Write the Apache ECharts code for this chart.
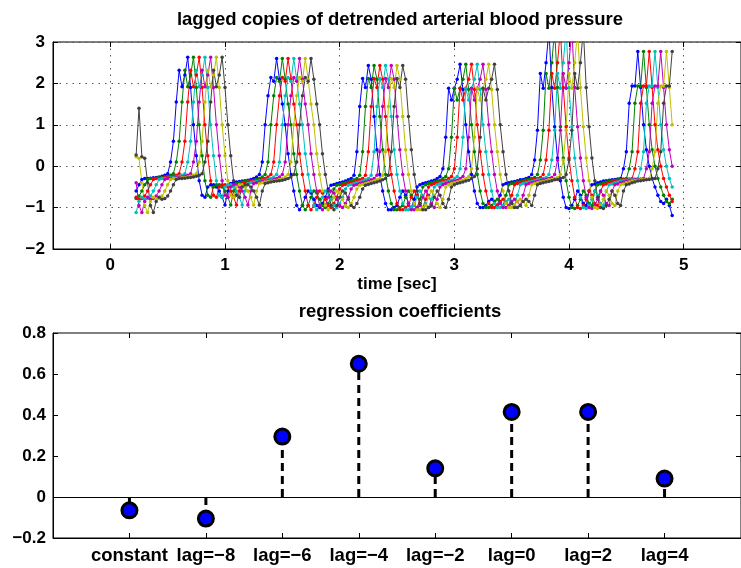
<!DOCTYPE html>
<html>
<head>
<meta charset="utf-8">
<script src="https://cdn.jsdelivr.net/npm/echarts@6/dist/echarts.min.js"></script>
<style>
  html, body { margin: 0; padding: 0; background: #fff; }
  #chart { width: 741px; height: 568px; }
</style>
</head>
<body>
<div id="chart"></div>
<script>
// detrended ABP samples (40 Hz); first 12 samples only appear in the most-lagged copy
const abpDetrended = [
  0.27, 1.4, 0.23, 0.19, -0.4, -0.95, -1.12, -0.85, -0.75, -0.8, -0.78, -0.72,
  -0.6, -0.45, -0.32, -0.3, -0.3, -0.29, -0.28, -0.27, -0.26, -0.24, -0.22, -0.18,
  0.1, 0.6, 1.55, 2.32, 1.92, 2.2, 2.63, 1.9, 1.0, 0.25, -0.35, -0.7,
  -0.75, -0.5, -0.45, -0.45, -0.5, -0.6, -0.75, -0.94, -0.6, -0.42, -0.4, -0.38,
  -0.37, -0.36, -0.35, -0.34, -0.32, -0.3, -0.26, -0.2, 0.1, 1.0, 1.7, 2.14,
  2.05, 2.6, 2.1, 1.5, 1.0, 0.3, -0.2, -0.6, -0.95, -1.05, -0.95, -0.75,
  -0.6, -0.65, -0.8, -0.95, -1.0, -0.9, -0.75, -0.55, -0.46, -0.44, -0.42, -0.4,
  -0.38, -0.36, -0.33, -0.3, -0.22, 0.35, 1.44, 2.12, 1.9, 2.43, 2.1, 1.2,
  0.4, -0.2, -0.6, -0.9, -1.05, -1.05, -1.0, -0.95, -0.75, -0.6, -0.7, -0.9,
  -1.0, -0.8, -0.5, -0.45, -0.42, -0.4, -0.38, -0.36, -0.34, -0.3, -0.25, -0.06,
  0.7, 1.88, 1.6, 1.88, 2.1, 2.46, 1.85, 1.0, 0.35, -0.2, -0.6, -0.9,
  -1.0, -1.0, -0.95, -0.85, -0.8, -0.85, -0.95, -0.7, -0.45, -0.42, -0.4, -0.38,
  -0.37, -0.35, -0.33, -0.32, -0.3, -0.27, -0.2, 0.15, 0.87, 2.24, 1.88, 2.5,
  3.3, 1.9, 0.95, 0.2, -0.35, -0.75, -1.0, -1.02, -0.95, -0.8, -0.6, -0.7,
  -0.9, -0.95, -0.6, -0.45, -0.43, -0.4, -0.38, -0.36, -0.35, -0.34, -0.33, -0.32,
  -0.31, -0.3, -0.06, 0.35, 1.52, 1.94, 1.94, 2.77, 1.9, 1.0, 0.4, 0.0,
  -0.3, -0.5, -0.7, -0.85, -0.9, -0.8, -0.95, -1.19
];
const sampleStart = 0.225;   // sec
const samplePeriod = 0.025;  // sec
const numSamples = 188;
const lags = [-8, -6, -4, -2, 0, 2, 4];
const lagColors = ['#0000ff', '#008000', '#ff0000', '#00bfbf', '#bf00bf', '#bfbf00', '#404040'];

const coefLabels = ['constant', 'lag=\u22128', 'lag=\u22126', 'lag=\u22124', 'lag=\u22122', 'lag=0', 'lag=2', 'lag=4'];
const coefValues = [-0.065, -0.105, 0.295, 0.65, 0.14, 0.415, 0.415, 0.09];

const timeTicks = [0, 1, 2, 3, 4, 5];
const coefTicks = [1, 2, 3, 4, 5, 6, 7, 8];

const FONT = 'Liberation Sans';
const FS = 17;      // tick numbers
const FS_TXT = 18.5; // titles and word labels
const minus = s => String(s).replace('-', '\u2212');

// one line per lagged copy: copy k is the signal advanced by (lag - lags[last]) samples
const lagSeries = lags.map((lag, k) => {
  const shift = lags[lags.length - 1] - lag;
  const data = [];
  for (let i = 0; i < numSamples; i++) {
    data.push([sampleStart + i * samplePeriod, abpDetrended[i + shift]]);
  }
  return {
    name: 'lag ' + lag,
    type: 'line',
    xAxisIndex: 0,
    yAxisIndex: 0,
    data: data,
    symbol: 'circle',
    symbolSize: 3.5,
    showSymbol: true,
    clip: true,
    lineStyle: { color: lagColors[k], width: 1 },
    itemStyle: { color: lagColors[k] },
    animation: false
  };
});

const tickStyle = { show: true, inside: true, length: 5, lineStyle: { color: '#000', width: 1 } };
const labelStyle = { color: '#000', fontFamily: FONT, fontWeight: 'bold', fontSize: FS };
const wordStyle = { color: '#000', fontFamily: FONT, fontWeight: 'bold', fontSize: FS_TXT };
const dotted = { show: true, lineStyle: { color: '#555', width: 1, type: [1.5, 5] } };
const axisLine = { show: true, onZero: false, lineStyle: { color: '#000' } };

const option = {
  animation: false,
  textStyle: { fontFamily: FONT },
  title: [
    {
      text: 'lagged copies of detrended arterial blood pressure',
      left: 400, top: 10, textAlign: 'center', padding: 0,
      textStyle: wordStyle
    },
    {
      text: 'regression coefficients',
      left: 400, top: 302, textAlign: 'center', padding: 0,
      textStyle: wordStyle
    }
  ],
  grid: [
    { left: 53, top: 42, width: 693, height: 207, show: true, borderColor: '#000', borderWidth: 1, backgroundColor: '#fff' },
    { left: 53, top: 333, width: 693, height: 205, show: true, borderColor: '#000', borderWidth: 1, backgroundColor: '#fff' }
  ],
  xAxis: [
    {
      gridIndex: 0, type: 'value', min: -0.5, max: 5.5,
      name: 'time [sec]', nameLocation: 'middle', nameGap: 27,
      nameTextStyle: labelStyle,
      axisLine: axisLine,
      axisTick: Object.assign({ customValues: timeTicks }, tickStyle),
      axisLabel: Object.assign({ customValues: timeTicks, margin: 8, formatter: v => minus(v) }, labelStyle),
      splitLine: dotted
    },
    {
      gridIndex: 0, type: 'value', min: -0.5, max: 5.5, position: 'top',
      axisLine: { show: false, onZero: false },
      axisTick: Object.assign({ customValues: timeTicks }, tickStyle),
      axisLabel: { show: false },
      splitLine: { show: false }
    },
    {
      gridIndex: 1, type: 'value', min: 0, max: 9,
      axisLine: axisLine,
      axisTick: Object.assign({ customValues: coefTicks }, tickStyle),
      axisLabel: Object.assign({
        customValues: coefTicks, margin: 8,
        formatter: v => coefLabels[Math.round(v) - 1]
      }, wordStyle),
      splitLine: { show: false }
    },
    {
      gridIndex: 1, type: 'value', min: 0, max: 9, position: 'top',
      axisLine: { show: false, onZero: false },
      axisTick: Object.assign({ customValues: coefTicks }, tickStyle),
      axisLabel: { show: false },
      splitLine: { show: false }
    }
  ],
  yAxis: [
    {
      gridIndex: 0, type: 'value', min: -2, max: 3, interval: 1,
      axisLine: axisLine,
      axisTick: tickStyle,
      axisLabel: Object.assign({ margin: 8, formatter: v => minus(v) }, labelStyle),
      splitLine: dotted
    },
    {
      gridIndex: 0, type: 'value', min: -2, max: 3, interval: 1, position: 'right',
      axisLine: { show: false, onZero: false }, axisTick: tickStyle,
      axisLabel: { show: false }, splitLine: { show: false }
    },
    {
      gridIndex: 1, type: 'value', min: -0.2, max: 0.8, interval: 0.2,
      axisLine: axisLine,
      axisTick: tickStyle,
      axisLabel: Object.assign({ margin: 7, formatter: v => minus(Math.round(v * 10) / 10) }, labelStyle),
      splitLine: { show: false }
    },
    {
      gridIndex: 1, type: 'value', min: -0.2, max: 0.8, interval: 0.2, position: 'right',
      axisLine: { show: false, onZero: false }, axisTick: tickStyle,
      axisLabel: { show: false }, splitLine: { show: false }
    }
  ],
  series: lagSeries.concat([
    {
      name: 'stems',
      type: 'custom',
      xAxisIndex: 2, yAxisIndex: 2,
      data: coefValues.map((v, i) => [i + 1, v]),
      renderItem: function (params, api) {
        const p0 = api.coord([api.value(0), 0]);
        const p1 = api.coord([api.value(0), api.value(1)]);
        return {
          type: 'line',
          shape: { x1: p0[0], y1: p0[1], x2: p1[0], y2: p1[1] },
          style: { stroke: '#000', lineWidth: 3, lineDash: [8, 5] }
        };
      },
      z: 3
    },
    {
      name: 'coefficients',
      type: 'scatter',
      xAxisIndex: 2, yAxisIndex: 2,
      data: coefValues.map((v, i) => [i + 1, v]),
      symbol: 'circle',
      symbolSize: 15,
      itemStyle: { color: '#0000ff', borderColor: '#000', borderWidth: 3, opacity: 1 },
      markLine: {
        silent: true, symbol: 'none', animation: false,
        label: { show: false },
        lineStyle: { color: '#000', width: 1, type: 'solid' },
        data: [{ yAxis: 0 }]
      },
      z: 4
    }
  ])
};

const chart = echarts.init(document.getElementById('chart'));
chart.setOption(option);
window.addEventListener('resize', () => chart.resize());
</script>
</body>
</html>
